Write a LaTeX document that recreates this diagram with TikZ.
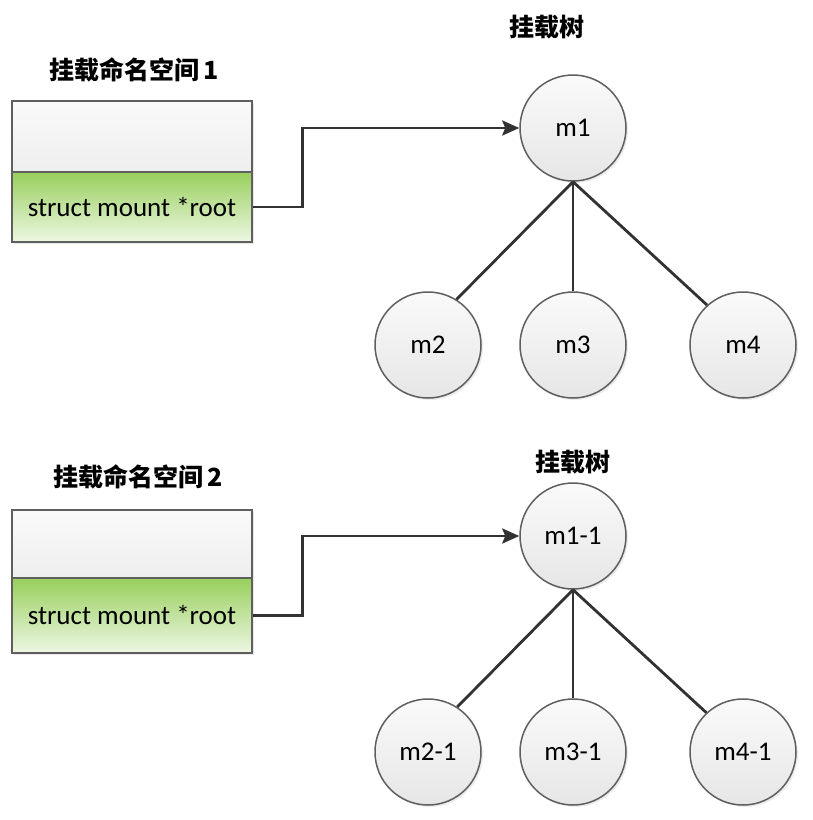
\documentclass[tikz,border=0pt]{standalone}
\usepackage{fontspec}
\setmainfont{Carlito}
\newfontfamily\cjk{Noto Sans CJK SC}
\usetikzlibrary{arrows.meta,shadows}
\definecolor{edgegray}{RGB}{95,95,95}
\definecolor{linegray}{RGB}{50,50,50}
\definecolor{greentop}{RGB}{152,207,92}
\definecolor{greenbot}{RGB}{238,247,228}
\definecolor{graytop}{RGB}{250,250,250}
\definecolor{graybot}{RGB}{238,238,238}
\definecolor{circbot}{RGB}{230,230,230}
\tikzset{
  boxtop/.style={draw=edgegray, line width=1.5pt, minimum width=240pt, inner sep=0pt,
    top color=graytop, bottom color=graybot,
    drop shadow={opacity=0.18, shadow xshift=2pt, shadow yshift=-2pt}},
  boxlow/.style={draw=edgegray, line width=1.5pt, minimum width=240pt, inner sep=0pt,
    top color=greentop, bottom color=greenbot, font=\fontsize{27}{30}\selectfont,
    drop shadow={opacity=0.18, shadow xshift=2pt, shadow yshift=-2pt}},
  mnode/.style={circle, draw=edgegray, line width=1.5pt, minimum size=106pt, inner sep=0pt,
    top color=graytop, bottom color=circbot, font=\fontsize{27}{30}\selectfont,
    drop shadow={opacity=0.15, shadow xshift=2pt, shadow yshift=-2pt}},
  ttl/.style={font=\fontsize{25}{28}\selectfont\bfseries, inner sep=0pt},
  conn/.style={draw=linegray, line width=2.8pt, -{Stealth[length=17pt,width=15pt,inset=3pt]}},
  tree/.style={draw=linegray, line width=2.8pt}
}
\begin{document}
\begin{tikzpicture}[x=1pt,y=-1pt]
\useasboundingbox (0,0) rectangle (813,820);
% ---- section 1
\node[ttl] (t1) at (134,70) {\cjk 挂载命名空间\,\textbf{1}};
\node[boxtop, minimum height=71pt] (b1up) at (132,136.5) {};
\node[boxlow, minimum height=70pt] (b1lo) at (132,207) {struct mount *root};
\node[ttl] (tr1) at (547,27) {\cjk 挂载树};
\node[mnode] (m1) at (573,128) {m1};
\node[mnode] (m2) at (428,345) {m2};
\node[mnode] (m3) at (573,345) {m3};
\node[mnode] (m4) at (743,345) {m4};
\draw[conn] (b1lo.east) -- ++(50,0) |- (m1.west);
\draw[tree] (m1.south) -- (m2.58);
\draw[tree] (m1.south) -- (m3.north);
\draw[tree] (m1.south) -- (m4.132);
% ---- section 2
\node[ttl] (t2) at (138,477) {\cjk 挂载命名空间\,\textbf{2}};
\node[boxtop, minimum height=68pt] (b2up) at (132,544) {};
\node[boxlow, minimum height=75pt] (b2lo) at (132,615.5) {struct mount *root};
\node[ttl] (tr2) at (573,462) {\cjk 挂载树};
\node[mnode] (n1) at (573,536) {m1-1};
\node[mnode] (n2) at (428,752) {m2-1};
\node[mnode] (n3) at (573,752) {m3-1};
\node[mnode] (n4) at (743,752) {m4-1};
\draw[conn] (b2lo.east) -- ++(50,0) |- (n1.west);
\draw[tree] (n1.south) -- (n2.57);
\draw[tree] (n1.south) -- (n3.north);
\draw[tree] (n1.south) -- (n4.133);
\end{tikzpicture}
\end{document}
